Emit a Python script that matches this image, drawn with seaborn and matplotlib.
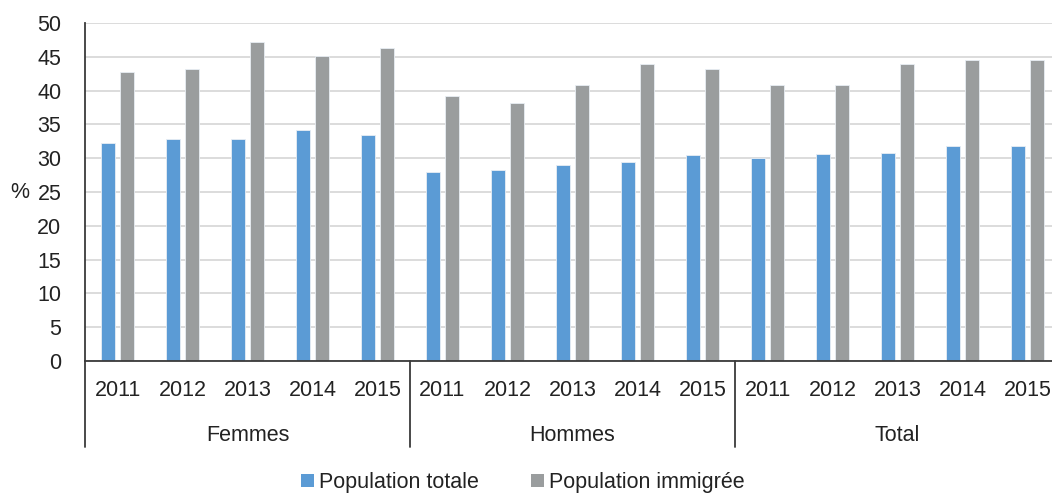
import matplotlib
matplotlib.use('Agg')
import matplotlib.pyplot as plt
import matplotlib.transforms as mtransforms
from matplotlib.patches import Patch
import seaborn as sns
import pandas as pd

# data
groups = ['Femmes', 'Hommes', 'Total']
years = ['2011', '2012', '2013', '2014', '2015']
series = ['Population totale', 'Population immigrée']
pop_totale = [32.3, 32.8, 32.8, 34.2, 33.5,
              28.0, 28.3, 29.0, 29.5, 30.4,
              30.0, 30.6, 30.8, 31.8, 31.8]
pop_immigree = [42.8, 43.2, 47.2, 45.1, 46.3,
                39.2, 38.2, 40.8, 43.9, 43.2,
                40.8, 40.8, 43.9, 44.6, 44.6]
colors = ['#5B9BD5', '#9A9D9E']

cats = [f'{g} {y}' for g in groups for y in years]
df = pd.DataFrame({
    'cat': cats * 2,
    'serie': [series[0]] * len(cats) + [series[1]] * len(cats),
    'value': pop_totale + pop_immigree,
})

sns.set_style('white')
plt.rcParams['font.family'] = ['Liberation Sans', 'DejaVu Sans']
fs = 15.5
dark = '#3a3a3a'

fig = plt.figure(figsize=(10.52, 4.93), dpi=100)
ax = fig.add_axes([85 / 1052, 132 / 493, 975 / 1052, 338 / 493])

sns.barplot(data=df, x='cat', y='value', hue='serie', order=cats, hue_order=series,
            palette=colors, saturation=1, width=0.6, gap=0.28, edgecolor='#e8eef4',
            linewidth=0.6, legend=False, ax=ax)

ax.set_axisbelow(True)
ax.yaxis.grid(True, color='#d9d9d9', linewidth=1.3)
ax.set_ylim(0, 50)
ax.set_yticks(range(0, 51, 5))
ax.set_xlim(-0.5, len(cats) - 0.5)
ax.set_xticks(range(len(cats)))
ax.set_xticklabels(years * len(groups))
ax.set_xlabel('')
ax.set_ylabel('')
ax.tick_params(axis='y', length=0, pad=17, labelsize=fs, labelcolor='#222222')
ax.tick_params(axis='x', length=0, pad=14, labelsize=fs, labelcolor='#222222')

for s in ['top', 'right']:
    ax.spines[s].set_visible(False)
ax.spines['left'].set_color(dark)
ax.spines['bottom'].set_color(dark)
ax.spines['left'].set_linewidth(1.3)
ax.spines['bottom'].set_linewidth(1.3)

# multi-level category axis
trans = mtransforms.blended_transform_factory(ax.transData, ax.transAxes)
for k in range(len(groups) + 1):
    x = k * len(years) - 0.5
    ax.plot([x, x], [0, -0.254], transform=trans, clip_on=False, color=dark, lw=1.3)
for k, g in enumerate(groups):
    ax.text(k * len(years) + 2, -0.22, g, transform=trans, ha='center', va='center',
            fontsize=fs, color='#222222')

fig.text(20 / 1052, 1 - 192 / 493, '%', ha='center', va='center', fontsize=fs, color='#222222')

handles = [Patch(facecolor=c, edgecolor='none') for c in colors]
fig.legend(handles, series, loc='center', bbox_to_anchor=(0.497, 0.021), ncol=2,
           frameon=False, handlelength=0.6, handleheight=0.6, handletextpad=0.25,
           columnspacing=2.4, fontsize=fs, labelcolor='#222222')

fig.savefig('out.png', dpi=100)
